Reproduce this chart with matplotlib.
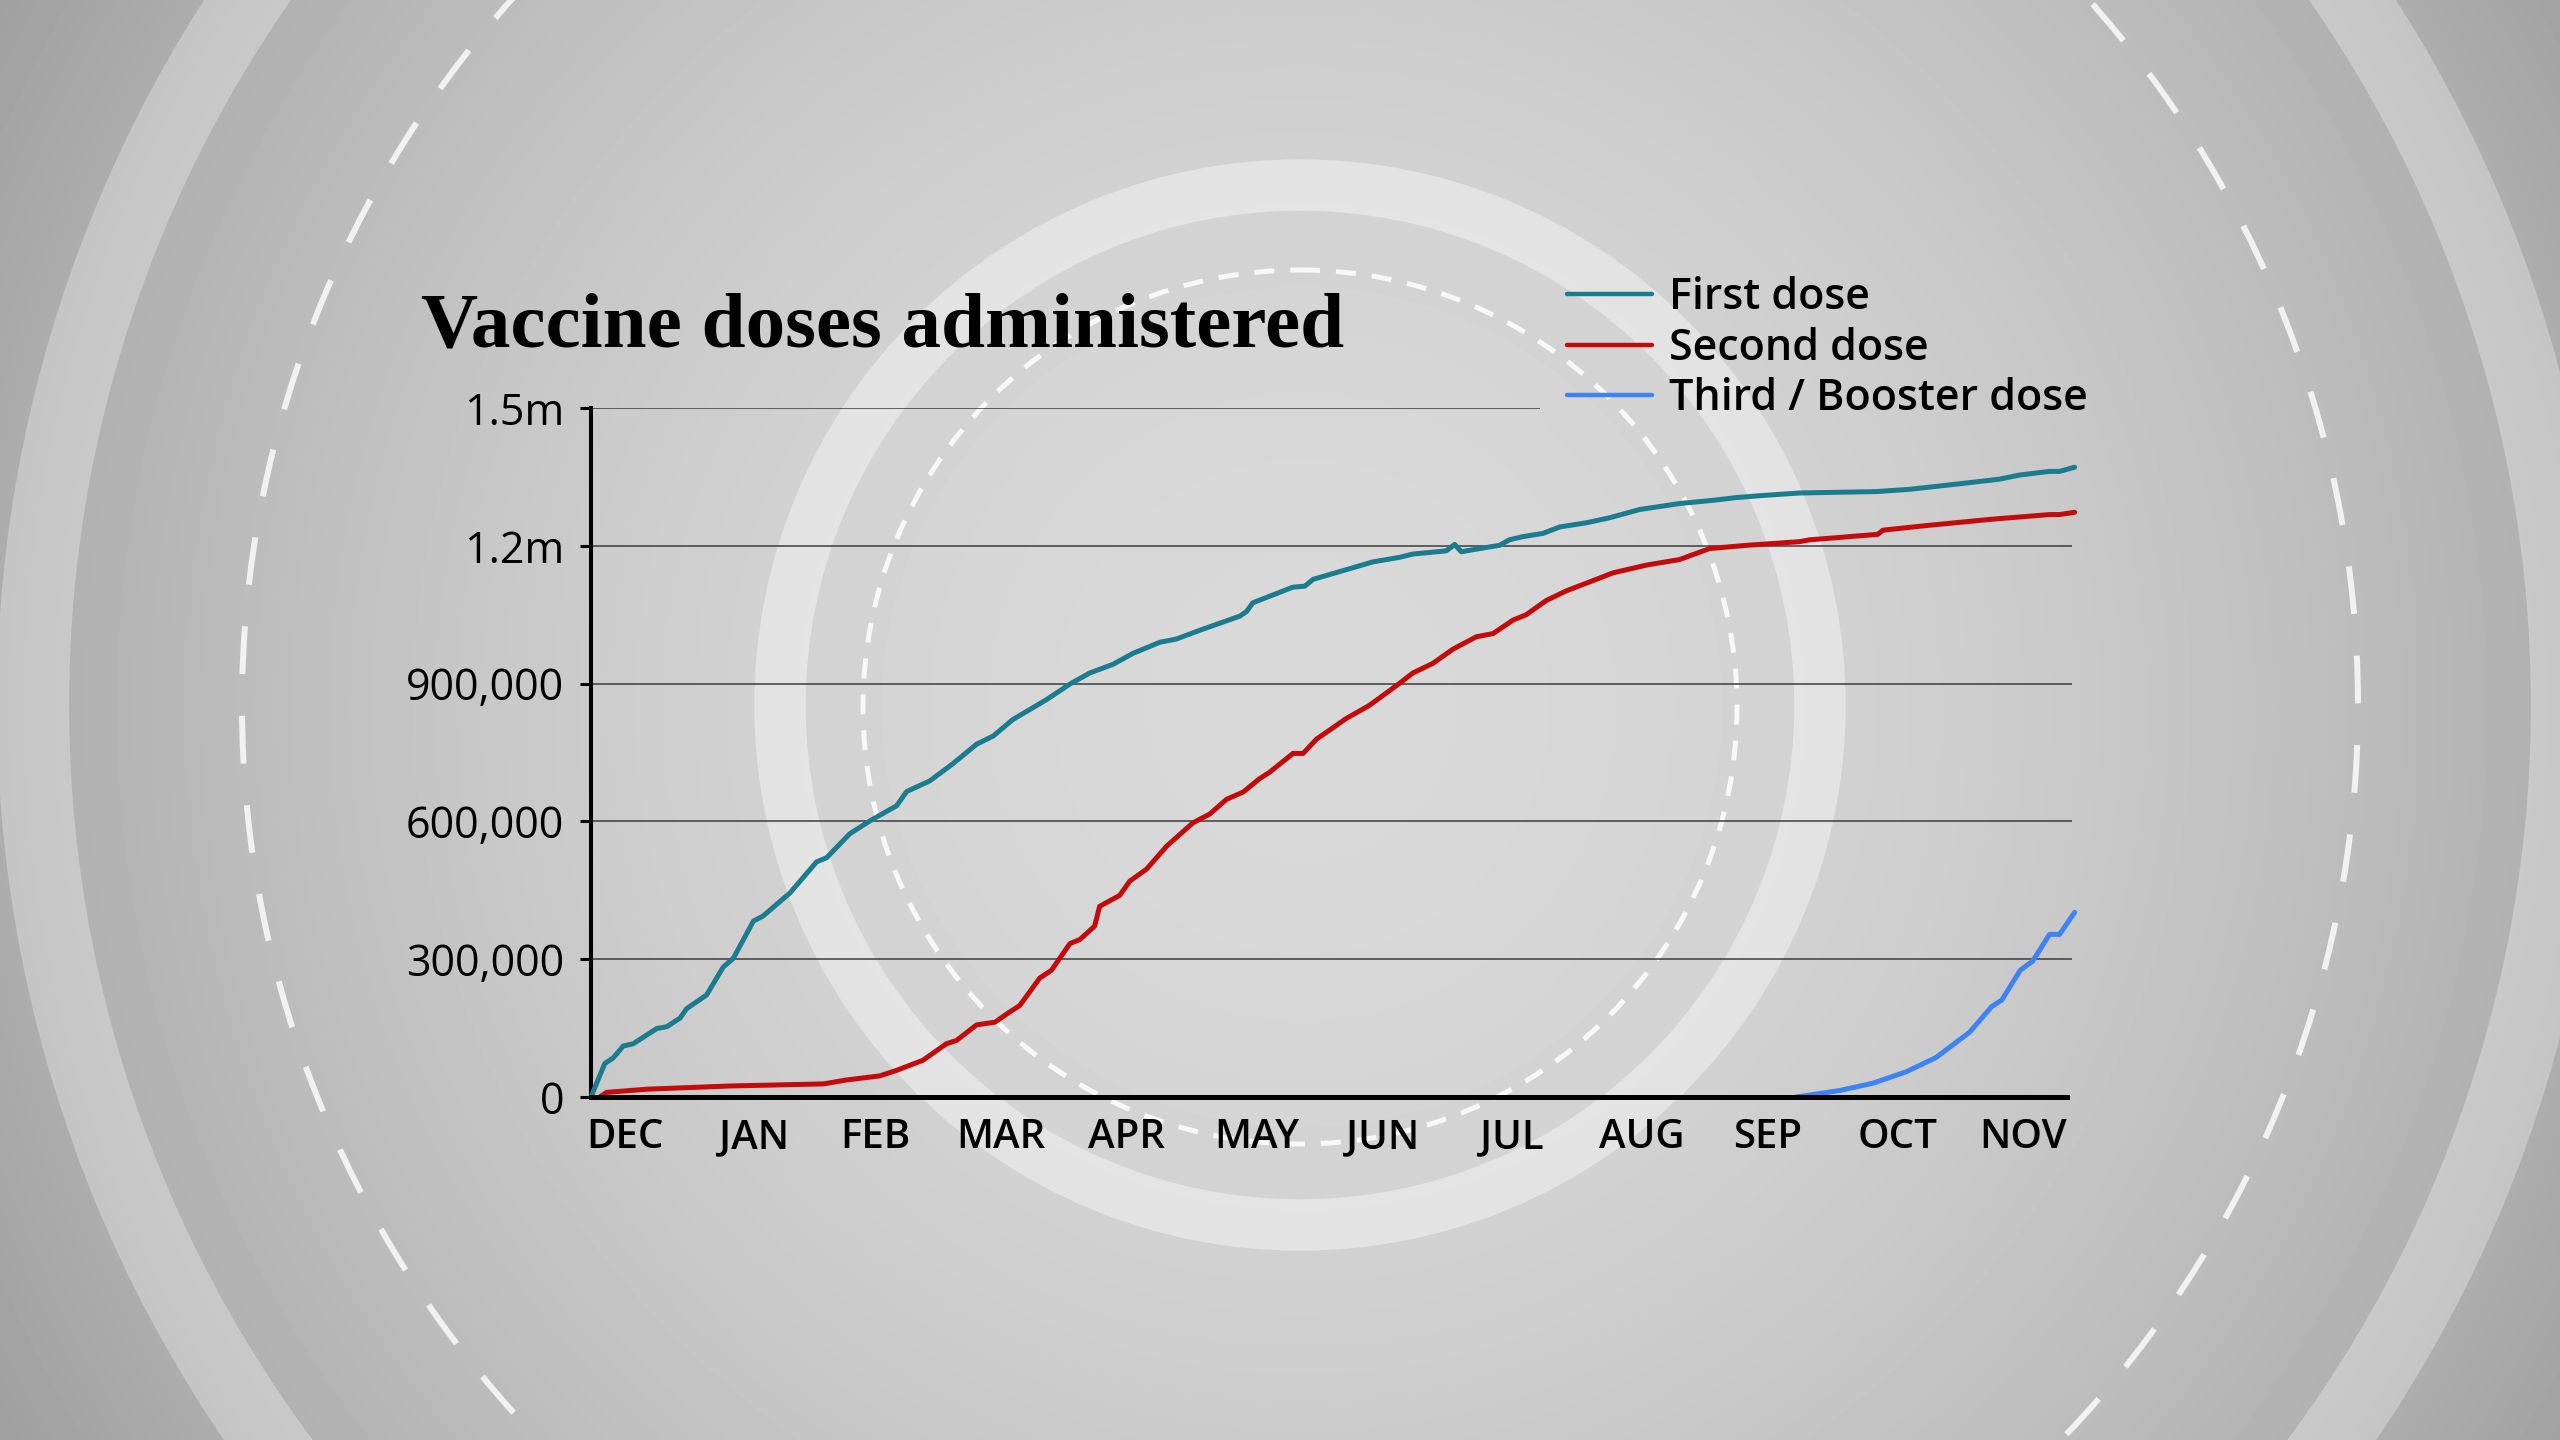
import matplotlib
matplotlib.use("Agg")
import matplotlib.pyplot as plt
import numpy as np
from matplotlib.patches import Circle
from matplotlib.lines import Line2D

# data: days since 8 Dec 2020, cumulative doses
start_date = np.datetime64("2020-12-08")

first_days = [0, 3.3, 5.3, 7.7, 10.1, 15.7, 18.1, 21.3, 22.8, 27.6, 31.6, 34.0, 38.8, 41.1,
              47.5, 53.9, 56.3, 61.8, 66.6, 73.0, 75.4, 80.9, 86.5, 92.1, 96.1, 100.8, 108.8,
              114.4, 119.1, 124.7, 129.5, 135.9, 139.8, 145.4, 155.0, 156.6, 158.1, 167.7,
              170.5, 172.5, 180.4, 186.8, 193.2, 196.3, 204.3, 206.3, 207.9, 212.3, 217.0,
              219.4, 222.6, 227.4, 231.4, 237.7, 243.3, 250.5, 260.0, 268.0, 273.6, 279.1,
              288.7, 307.0, 315.0, 326.9, 336.4, 341.2, 348.4, 350.8, 354.4]
first_vals = [0, 73, 85, 111, 116, 149, 153, 172, 192, 222, 283, 302, 383, 394,
              444, 512, 521, 573, 601, 634, 665, 688, 726, 768, 786, 822, 865,
              899, 923, 942, 966, 990, 997, 1016, 1047, 1057, 1076, 1110,
              1112, 1127, 1148, 1165, 1175, 1182, 1189, 1203, 1187, 1194, 1201,
              1213, 1220, 1227, 1241, 1250, 1261, 1279, 1292, 1299, 1305, 1309,
              1315, 1318, 1323, 1335, 1345, 1354, 1362, 1362, 1371]

second_days = [2.1, 3.7, 13.3, 33.2, 55.5, 61.0, 69.0, 73.0, 79.3, 84.9, 87.3, 92.1, 96.5,
               100.0, 102.4, 107.2, 110.0, 114.4, 116.8, 120.3, 121.5, 126.3, 128.7, 132.7,
               137.5, 143.8, 147.8, 151.8, 155.8, 159.7, 162.1, 167.7, 170.1, 173.3, 180.4,
               186.0, 193.2, 196.3, 201.1, 205.9, 211.5, 215.5, 220.2, 223.4, 228.2, 233.0,
               239.3, 244.1, 252.1, 260.0, 267.2, 276.0, 288.7, 291.1, 307.4, 308.6, 318.9,
               334.8, 348.4, 350.8, 354.4]
second_vals = [0, 10, 17, 24, 28.5, 37, 46, 58, 80, 116, 123, 157, 163,
               185, 199, 259, 276, 334, 343, 372, 415, 439, 470, 496,
               546, 597, 616, 648, 664, 693, 707, 748, 748, 779, 824,
               853, 901, 923, 944, 975, 1002, 1009, 1038, 1050, 1081, 1102,
               1124, 1141, 1158, 1170, 1194, 1201, 1209, 1213, 1225, 1234, 1244,
               1258, 1268, 1268, 1273]

third_days = [287.9, 298.2, 306.2, 314.2, 321.3, 329.3, 334.6, 337.0, 341.4, 344.4, 348.4, 350.8, 354.4]
third_vals = [0, 14, 30, 55, 86, 141, 197, 211, 276, 296, 354, 354, 402]

series_names = ["First dose", "Second dose", "Third / Booster dose"]
series_colors = ["#1b7b8f", "#c40a0a", "#3d83f5"]

month_labels = ["DEC", "JAN", "FEB", "MAR", "APR", "MAY", "JUN", "JUL", "AUG", "SEP", "OCT", "NOV"]
month_mid = ["2020-12-16", "2021-01-16", "2021-02-14", "2021-03-16", "2021-04-15", "2021-05-16",
             "2021-06-15", "2021-07-16", "2021-08-16", "2021-09-15", "2021-10-16", "2021-11-15"]

y_ticks = [0, 300000, 600000, 900000, 1200000, 1500000]
y_labels = ["0", "300,000", "600,000", "900,000", "1.2m", "1.5m"]

W, H = 2560, 1440
fig = plt.figure(figsize=(W / 100, H / 100), dpi=100)

# background: vignette + rings
bg = fig.add_axes([0, 0, 1, 1], zorder=-5)
bg.set_xlim(0, W)
bg.set_ylim(H, 0)
bg.axis("off")
cx, cy = 1300, 705
xx, yy = np.meshgrid(np.arange(0, W, 4), np.arange(0, H, 4))
dist = np.sqrt((xx - cx) ** 2 + (yy - cy) ** 2) / 1470
grey = 0.85 - 0.22 * dist ** 2
bg.imshow(grey, cmap="gray", vmin=0, vmax=1, extent=[0, W, H, 0], aspect="auto", interpolation="bilinear")

bg.add_patch(Circle((cx, cy), 520, fill=False, ec="white", lw=37, alpha=0.4))
bg.add_patch(Circle((cx, cy), 1267, fill=False, ec="white", lw=52, alpha=0.3))
bg.add_patch(Circle((cx, 707), 437, fill=False, ec="white", lw=3.6, alpha=0.85,
                    linestyle=(0, (4, 3.2))))
bg.add_patch(Circle((cx, cy), 1058, fill=False, ec="white", lw=4.3, alpha=0.8,
                    linestyle=(0, (8, 7))))

# chart axes
x_end = 353.7
ax = fig.add_axes([591 / W, 1 - 1097 / H, (2071.7 - 591) / W, (1097 - 408) / H])
ax.patch.set_alpha(0)
ax.set_xlim(0, x_end)
ax.set_ylim(0, 1500000)

for s in ["top", "right"]:
    ax.spines[s].set_visible(False)
ax.spines["left"].set_linewidth(2.9)
ax.spines["bottom"].set_linewidth(3.6)
ax.spines["bottom"].set_bounds(0, 352.5)
ax.spines["bottom"].set_zorder(4)

# gridlines
ax.hlines(y_ticks[1:-1], 0, x_end, color="#3c3c3c", lw=1.1, zorder=1)
ax.hlines(y_ticks[-1], 0, 226.6, color="#3c3c3c", lw=1.1, zorder=1)

sans = "Open Sans"
ax.set_yticks(y_ticks)
ax.set_yticklabels(y_labels, fontsize=31, fontfamily=sans, fontweight="medium")
ax.tick_params(axis="y", length=8, width=2.2, pad=11.5, colors="black")

month_pos = [(np.datetime64(d) - start_date).astype(int) for d in month_mid]
ax.set_xticks(month_pos)
ax.set_xticklabels(month_labels, fontsize=29, fontfamily=sans, fontweight="semibold")
ax.tick_params(axis="x", length=0, pad=15)

days_list = [first_days, second_days, third_days]
vals_list = [first_vals, second_vals, third_vals]
for days, vals, col in zip(days_list, vals_list, series_colors):
    ax.plot(days, np.array(vals) * 1000, color=col, lw=3.6, clip_on=False, zorder=3,
            solid_joinstyle="round", solid_capstyle="round")

# title
fig.text(421 / W, 1 - 346 / H, "Vaccine doses administered", fontsize=57,
         fontfamily="Liberation Serif", fontweight="bold", va="baseline", ha="left")

# legend
leg_y = [294, 345, 395]
for name, col, yc in zip(series_names, series_colors, leg_y):
    fig.add_artist(Line2D([1567 / W, 1652 / W], [1 - yc / H, 1 - yc / H], color=col, lw=3.2,
                          transform=fig.transFigure, solid_capstyle="round"))
    fig.text(1669 / W, 1 - (yc + 15) / H, name, fontsize=31, fontfamily=sans,
             fontweight="semibold", va="baseline", ha="left")

fig.savefig("out.png", dpi=100)
